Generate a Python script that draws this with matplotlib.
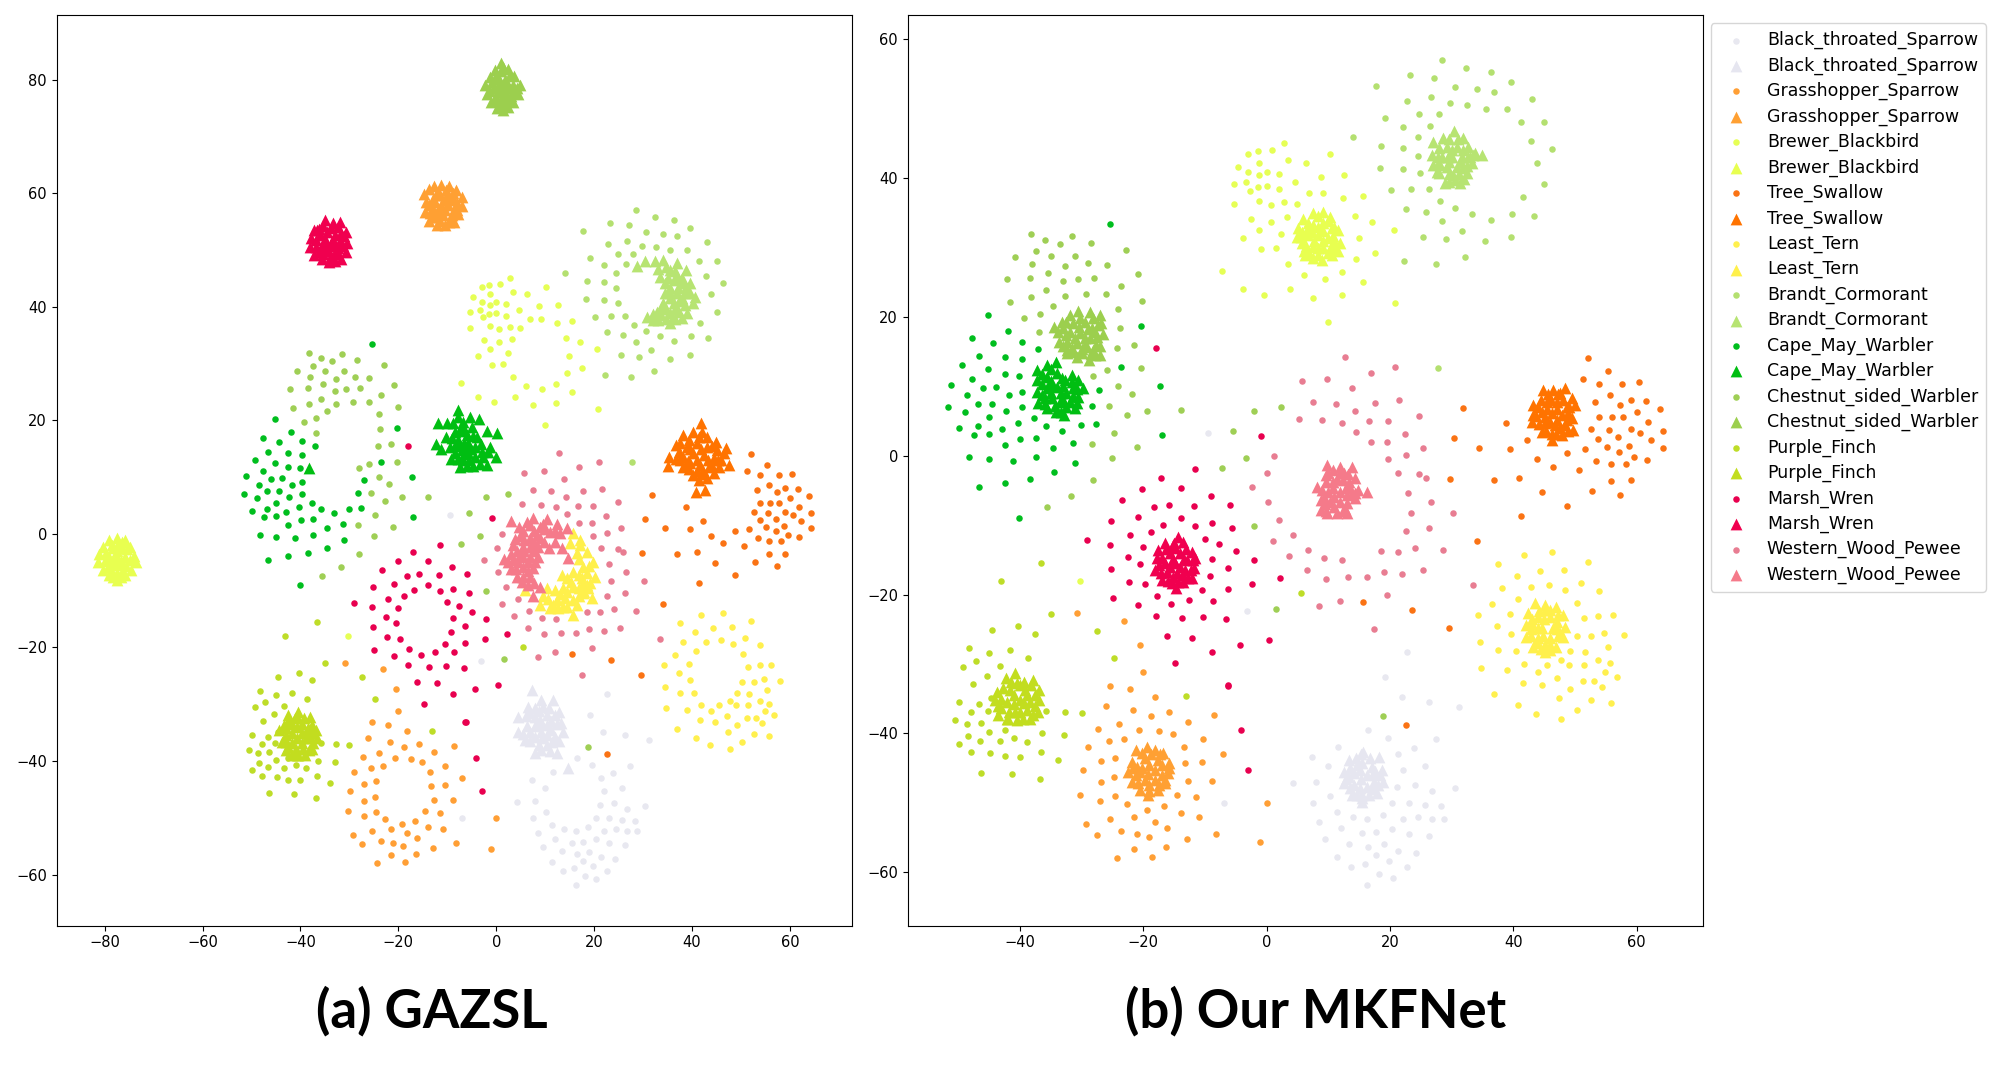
import matplotlib
matplotlib.use("Agg")
import matplotlib.pyplot as plt

class_names = ["Black_throated_Sparrow", "Grasshopper_Sparrow", "Brewer_Blackbird", "Tree_Swallow", "Least_Tern",
               "Brandt_Cormorant", "Cape_May_Warbler", "Chestnut_sided_Warbler", "Purple_Finch", "Marsh_Wren",
               "Western_Wood_Pewee"]
circle_colors = ["#E8E8F0", "#FF9F35", "#E6FF55", "#FA7314", "#FFF04E", "#B4E070", "#00BE1E", "#9FCF55", "#BEDD28", "#E8004F", "#E87D92"]
triangle_colors = ["#E6E6F0", "#FFA033", "#E8FF50", "#FF7300", "#FFF04B", "#B7E472", "#00BE12", "#9CCF4E", "#C2DD1F", "#F0004F", "#F57A8A"]

# unseen-sample features (circles), shared by both panels
black_circles = [(-3.2,-22.43),(22.69,-28.24),(19.14,-31.84),(21.87,-34.82),(26.25,-35.44),(31.13,-36.21),(16.41,-39.53),(19.63,-40.73),(27.41,-40.87),(11.53,-41.93),(23.85,-42.07),(21.37,-42.98),(7.31,-43.42),(9.87,-44.76),(25.67,-44.76),(22.03,-45.34),(4.25,-47.16),(7.97,-46.97),(24.02,-47.36),(21.12,-47.79),(30.47,-47.88),(26.75,-48.36),(10.2,-48.99),(-6.92,-50.05),(7.47,-50.05),(20.38,-50.05),(23.02,-50.05),(25.67,-50.33),(28.24,-50.48),(11.36,-51.25),(18.8,-51.68),(13.93,-51.97),(22.03,-52.26),(24.51,-51.97),(26.75,-52.26),(28.73,-52.26),(16.24,-52.4),(8.47,-52.74),(12.02,-53.65),(20.29,-53.79),(15.41,-54.37),(17.81,-54.22),(23.02,-54.51),(26.25,-54.8),(9.46,-55.14),(13.43,-55.86),(16.41,-56.34),(18.97,-56.0),(21.29,-56.91),(24.18,-57.25),(11.36,-57.83),(17.81,-57.54),(19.8,-58.45),(13.68,-59.31),(15.91,-58.88),(22.69,-59.31),(18.14,-60.23),(20.46,-60.85),(16.24,-61.86),(-9.55,3.27)]
grass_circles = [(-30.82,-22.67),(-23.21,-23.87),(-20.57,-27.23),(-20.07,-31.12),(-25.44,-33.19),(-22.22,-33.67),(-18.17,-34.72),(-26.11,-36.02),(-21.64,-36.65),(-15.85,-36.98),(-18.83,-37.56),(-8.57,-37.41),(-12.79,-38.33),(-23.96,-38.61),(-27.27,-39.33),(-20.73,-39.53),(-17.5,-39.67),(-15.11,-40.1),(-23.13,-40.87),(-25.61,-41.16),(-10.39,-40.87),(-29.0,-41.93),(-13.45,-41.93),(-7.0,-42.98),(-24.62,-43.56),(-26.93,-44.04),(-13.29,-44.33),(-10.56,-44.14),(-29.83,-45.34),(-24.78,-46.25),(-26.93,-47.02),(-12.79,-46.83),(-8.9,-46.83),(-30.33,-48.8),(-24.62,-48.99),(-14.61,-48.8),(-11.47,-49.09),(-27.1,-49.71),(-22.72,-50.19),(-19.32,-51.05),(-16.68,-50.48),(0.03,-50.05),(-13.95,-51.53),(-10.89,-51.97),(-21.56,-51.97),(-25.44,-52.26),(-18.17,-52.74),(-29.33,-53.02),(-16.18,-53.6),(-23.63,-54.08),(-27.43,-54.66),(-21.06,-54.51),(-19.0,-54.94),(-8.24,-54.51),(-12.95,-55.28),(-1.13,-55.57),(-16.35,-56.34),(-21.56,-56.63),(-24.29,-57.97),(-18.66,-57.83)]
brewer_circles = [(-2.97,43.49),(-1.47,43.84),(0.84,44.02),(2.75,45.13),(-4.67,41.67),(-1.27,42.2),(3.43,42.55),(6.36,42.2),(10.24,43.49),(-2.97,40.91),(0.03,40.91),(-1.27,40.38),(1.93,40.56),(8.75,40.2),(12.56,40.38),(-5.29,39.09),(-3.38,39.44),(-1.47,38.74),(0.03,38.91),(-2.77,38.21),(1.93,38.38),(4.66,39.44),(6.84,37.79),(9.15,37.79),(12.36,37.09),(15.56,37.44),(-5.29,36.33),(-1.27,36.68),(0.64,36.15),(2.75,36.5),(4.86,36.33),(-2.49,34.16),(0.64,33.74),(3.23,34.33),(14.26,34.51),(17.05,33.74),(-1.27,32.51),(2.34,31.92),(20.67,32.51),(-3.79,31.39),(14.94,31.39),(-0.86,29.75),(1.46,29.93),(3.43,27.58),(6.02,26.05),(9.43,25.52),(12.15,26.46),(15.56,25.0),(-7.2,26.64),(-3.79,24.05),(-0.38,23.17),(3.84,24.05),(7.45,22.76),(12.15,23.12),(20.87,22.0),(9.97,19.24),(14.47,28.28),(17.53,29.16),(-30.33,-18.06)]
tree_circles = [(52.12,14.08),(55.31,12.16),(51.26,11.1),(53.96,10.33),(57.69,10.33),(60.39,10.62),(55.63,8.7),(53.31,7.79),(57.36,7.36),(59.04,8.07),(61.58,7.93),(63.8,6.73),(60.07,6.3),(53.96,5.53),(56.01,5.53),(57.85,5.53),(61.9,4.81),(52.61,3.9),(55.47,3.75),(59.04,3.9),(60.55,3.27),(64.28,3.61),(53.8,2.41),(57.04,2.7),(62.28,2.26),(31.85,6.87),(38.77,4.66),(30.34,2.55),(42.18,2.26),(34.39,1.06),(39.47,0.92),(51.63,0.92),(55.15,1.21),(58.71,1.35),(64.28,1.06),(48.77,0.44),(57.2,0.58),(43.85,-0.43),(59.58,-0.14),(61.74,-0.62),(53.47,-0.76),(46.39,-1.68),(55.8,-1.2),(58.23,-1.2),(50.61,-2.11),(29.8,-3.31),(36.93,-3.45),(40.99,-3.16),(55.8,-3.6),(59.04,-3.45),(44.71,-5.19),(52.82,-5.01),(57.25,-5.72),(48.73,-7.18),(41.31,-8.65),(34.09,-12.35),(15.56,-21.1),(23.5,-22.2),(29.56,-24.78),(22.53,-38.76)]
tern_circles = [(41.72,-14.31),(46.26,-13.88),(37.58,-15.66),(52.06,-15.37),(40.56,-17.29),(44.28,-16.57),(48.25,-16.42),(38.16,-19.11),(42.79,-18.97),(45.85,-18.63),(50.9,-18.35),(48.33,-19.4),(53.88,-19.55),(36.51,-21.37),(40.72,-20.6),(50.4,-21.18),(34.19,-23.0),(39.4,-22.86),(51.4,-23.44),(53.79,-23.15),(56.11,-23.0),(37.33,-24.49),(39.57,-25.69),(50.24,-26.03),(52.55,-26.03),(54.62,-25.55),(57.93,-25.84),(34.52,-26.89),(37.58,-27.95),(40.39,-28.1),(55.28,-27.52),(49.25,-28.1),(51.64,-28.24),(47.67,-29.44),(53.79,-29.44),(34.69,-30.64),(38.9,-30.93),(41.8,-30.06),(45.52,-30.21),(43.95,-31.12),(49.0,-30.21),(51.4,-30.21),(55.61,-29.92),(54.79,-31.12),(56.77,-31.84),(47.09,-31.99),(41.64,-32.75),(44.61,-33.04),(51.31,-32.47),(53.05,-32.47),(49.25,-33.67),(54.37,-33.33),(36.84,-34.39),(47.34,-34.87),(52.55,-35.16),(55.78,-35.59),(40.72,-35.92),(43.62,-37.13),(50.24,-36.69),(47.67,-37.85)]
brandt_circles = [(28.45,57.02),(32.34,55.82),(23.26,54.81),(27.09,54.38),(36.39,55.24),(39.63,53.9),(17.69,53.27),(30.5,53.13),(34.07,52.84),(36.93,52.41),(26.61,51.64),(22.72,51.06),(42.99,51.35),(29.8,50.77),(32.55,50.58),(35.58,50.01),(38.93,50.01),(24.77,49.24),(27.96,49.24),(19.15,48.66),(41.31,48.04),(45.04,48.04),(22.07,47.32),(26.45,47.46),(24.55,45.92),(42.82,45.35),(18.5,44.58),(22.07,44.29),(46.34,44.15),(24.55,43.23),(43.85,42.18),(18.34,41.41),(22.07,41.26),(24.93,40.69),(45.04,39.15),(20.23,38.24),(23.42,38.43),(26.28,38.43),(28.12,36.75),(41.63,37.23),(22.55,35.55),(25.8,35.12),(30.5,35.69),(33.36,34.83),(39.8,34.83),(43.31,34.49),(28.45,33.77),(36.39,33.92),(31.69,32.43),(25.42,31.51),(29.15,31.23),(35.42,30.89),(39.63,31.51),(22.23,28.06),(27.47,27.62),(32.18,28.68),(27.8,12.59),(14.07,45.92)]
cape_circles = [(-25.39,33.44),(-45.17,20.23),(-41.98,17.97),(-20.3,18.74),(-47.71,16.92),(-44.31,16.2),(-39.6,16.34),(-37.06,15.43),(-46.68,14.42),(-42.47,14.27),(-39.6,13.94),(-49.39,13.03),(-23.55,12.74),(-45.17,12.45),(-42.47,11.82),(-40.09,11.54),(-47.71,11.1),(-51.22,10.19),(-17.28,10.05),(-46.03,9.76),(-43.82,9.9),(-27.11,9.42),(-39.6,9.13),(-48.52,8.7),(-41.82,8.7),(-46.85,7.5),(-44.47,7.5),(-28.25,7.21),(-51.6,7.02),(-39.6,7.02),(-48.9,6.3),(-42.31,6.44),(-45.0,5.53),(-37.71,5.39),(-40.25,4.76),(-27.6,4.62),(-30.14,4.48),(-46.85,4.33),(-35.71,4.33),(-49.87,4.04),(-42.95,3.9),(-33.17,3.61),(-47.49,2.99),(-45.0,3.13),(-16.95,2.99),(-39.93,2.41),(-37.39,2.55),(-31.33,1.79),(-42.47,1.5),(-34.68,1.07),(-48.2,-0.14),(-45.0,-0.47),(-41.12,-0.76),(-37.39,-0.14),(-31.11,-1.05),(-34.52,-2.39),(-38.41,-3.31),(-42.47,-3.93),(-46.68,-4.51),(-40.09,-9.02)]
chestnut_circles = [(-38.25,31.95),(-35.87,31.04),(-33.49,30.46),(-31.49,31.66),(-28.47,30.6),(-22.85,29.69),(-37.39,29.55),(-40.79,28.64),(-35.01,28.78),(-31.11,28.78),(-38.09,27.58),(-32.68,27.29),(-28.95,27.72),(-25.93,27.43),(-20.85,26.23),(-42.14,25.51),(-38.41,25.66),(-35.39,26.38),(-33.01,25.23),(-30.63,25.51),(-27.93,25.66),(-23.55,24.46),(-35.71,23.83),(-38.25,22.82),(-32.68,22.97),(-29.28,23.26),(-26.09,23.26),(-20.14,22.34),(-41.6,22.2),(-34.68,21.62),(-24.04,21.14),(-39.28,19.8),(-36.74,20.42),(-23.71,18.45),(-36.9,17.83),(-24.2,15.47),(-21.49,15.9),(-20.3,12.59),(-25.93,12.3),(-28.09,11.54),(-24.04,10.05),(-21.87,8.85),(-25.55,7.21),(-19.33,6.44),(-22.68,5.82),(-13.93,6.59),(-2.09,6.44),(2.29,7.02),(-5.49,3.61),(-24.74,3.27),(-21.01,1.21),(-28.3,1.64),(-25.06,-0.33),(-7.17,-1.82),(-3.28,-0.33),(-28.09,-3.5),(-31.66,-5.76),(-35.55,-7.39),(-2.09,-10.08),(1.59,-22.09),(18.81,-37.51)]
purple_circles = [(-36.61,-15.51),(-43.15,-18.01),(-35.04,-22.81),(-40.33,-24.49),(-44.55,-25.12),(-37.6,-25.69),(-27.43,-25.21),(-48.19,-27.66),(-41.66,-27.95),(-45.05,-28.38),(-38.76,-29.15),(-24.7,-29.15),(-47.2,-29.58),(-49.27,-30.5),(-43.31,-30.35),(-45.38,-31.7),(-47.69,-32.9),(-44.63,-34.87),(-49.93,-35.44),(-46.7,-35.78),(-47.86,-36.93),(-45.21,-36.79),(-35.78,-36.79),(-32.72,-36.98),(-30.0,-37.12),(-50.51,-38.13),(-48.6,-38.61),(-46.37,-38.47),(-42.48,-39.53),(-45.05,-39.81),(-36.45,-39.96),(-32.89,-40.25),(-48.44,-40.39),(-46.54,-41.02),(-43.31,-41.16),(-40.99,-40.73),(-38.93,-41.3),(-49.93,-41.59),(-47.86,-42.65),(-44.88,-42.79),(-42.48,-43.27),(-40.0,-43.42),(-36.61,-42.65),(-33.88,-43.85),(-46.37,-45.67),(-41.33,-45.82),(-36.78,-46.54),(-13.12,-34.68),(5.49,-19.83)]
marsh_circles = [(-17.98,15.47),(-0.95,2.84),(-11.55,-1.96),(-17.11,-3.16),(-20.14,-4.84),(-13.93,-4.7),(-9.01,-5.76),(-23.39,-6.33),(-15.76,-7.1),(-18.3,-7.39),(-11.71,-7.24),(-5.98,-7.1),(-25.22,-9.36),(-20.85,-8.88),(-13.93,-9.02),(-8.85,-9.65),(-16.79,-9.93),(-11.55,-10.08),(-5.66,-10.37),(-18.79,-11.0),(-22.2,-11.42),(-29.12,-12.19),(-10.03,-12.05),(-7.66,-12.77),(-25.39,-12.91),(-20.0,-13.1),(-4.95,-13.68),(-22.52,-14.59),(-8.85,-14.88),(-2.09,-15.02),(-20.52,-15.65),(-25.22,-16.37),(-6.3,-16.22),(-9.17,-17.28),(2.13,-17.57),(-22.36,-18.2),(-19.66,-18.48),(-2.41,-18.48),(-6.3,-19.25),(-10.52,-19.4),(-24.9,-20.45),(-17.82,-20.26),(-12.58,-20.74),(-8.68,-20.88),(-20.85,-21.51),(-15.44,-21.36),(-17.98,-23.14),(-13.76,-23.43),(-10.36,-23.29),(-6.63,-23.57),(-16.18,-26.03),(-12.13,-26.32),(0.36,-26.61),(-4.35,-27.23),(-8.9,-28.24),(-14.78,-29.92),(-6.26,-33.04),(-6.34,-33.19),(-4.19,-39.53),(-2.95,-45.34)]
pewee_circles = [(12.77,14.27),(20.88,12.73),(16.99,11.87),(5.69,10.81),(9.74,11.1),(13.9,9.76),(7.53,7.79),(11.26,7.5),(17.63,7.64),(21.53,7.98),(14.28,6.44),(24.77,5.67),(5.31,5.24),(9.04,5.1),(12.28,4.66),(16.66,4.95),(19.69,4.95),(14.45,3.46),(22.39,3.18),(16.99,1.93),(19.53,1.93),(1.26,0.0),(25.42,1.06),(19.69,-0.43),(22.55,0.15),(0.12,-2.54),(21.36,-2.54),(24.77,-2.68),(25.8,-3.16),(-2.42,-4.51),(0.29,-6.62),(1.97,-9.31),(4.34,-11.42),(1.1,-12.34),(6.67,-13.54),(3.64,-14.45),(9.37,-14.74),(12.24,-15.02),(18.5,-13.68),(21.26,-13.82),(6.5,-16.51),(9.69,-17.71),(13.26,-17.43),(16.29,-17.43),(18.99,-16.71),(19.53,-20.1),(8.56,-21.6),(11.91,-20.88),(17.48,-24.92),(22.98,-5.36),(26.59,-6.65),(23.46,-8.3),(30.27,-8.3),(26.25,-10.47),(22.57,-10.88),(28.57,-13.58),(24.07,-13.23),(25.37,-16.52),(21.96,-17.1),(33.4,-18.58)]

# seen-sample features (triangles), panel (a) GAZSL
black_a = [(7.2,-27.5),(9.1,-29.2),(11.5,-29.2),(6.5,-30.4),(12.9,-31.3),(4.4,-32.2),(13.3,-33.3),(4.4,-34.8),(13.7,-34.8),(5.8,-36.3),(10.4,-37.2),(12.5,-38.6),(7.9,-38.6),(14.7,-41.3),(7.9,-32.2),(10.4,-31.9),(7.9,-33.9),(10.4,-33.6),(7.9,-35.7),(10.4,-35.4),(12,-35.7),(6.2,-33.9),(8.7,-37.2),(11.9,-31.9),(9.5,-30.4),(7.9,-30.7),(6,-32),(6.8,-31.5),(9,-32.8),(11.2,-33),(12.3,-33.5),(5.5,-35.3),(6.9,-34.8),(9.1,-34.8),(11.2,-34.5),(6.9,-36.5),(9.4,-36),(11.4,-36.6),(9.2,-38),(11,-38.2),(12.8,-36.5),(8.8,-31.2),(10.8,-30.6),(9.2,-33.5)]
grass_a = [(-14.7,59.9),(-14.4,58.5),(-14.6,56.7),(-13.7,55.2),(-12.2,54.4),(-10.5,54.4),(-8.7,54.9),(-7.8,56.3),(-7.0,57.8),(-7.0,59.3),(-8.2,60.5),(-9.6,61.3),(-11.2,61.4),(-12.8,61.2),(-13.8,60.7),(-13,59),(-11.5,59.7),(-10,59.7),(-8.7,58.8),(-12.9,57.3),(-11.3,58),(-9.8,58),(-8.7,57),(-12.4,55.8),(-10.8,56.2),(-9.3,55.9),(-13.8,58),(-13.5,56.5),(-12.6,58.5),(-12,60.3),(-10.3,60.6),(-8.8,60),(-8,58.2),(-8,57),(-10.5,58.8),(-10.5,57),(-12,57),(-13,55.9),(-11.4,55.2),(-9.7,55),(-9,56.2),(-11.5,56.5),(-12.3,59.7),(-9.4,59)]
brewer_a = [(-77.5,-0.8),(-79.2,-1),(-75.8,-1),(-80.3,-2.3),(-74.8,-2.3),(-81.2,-3.6),(-74,-3.8),(-81.3,-5),(-73.6,-5),(-80.3,-6.3),(-74.7,-6.3),(-79.2,-7.2),(-75.9,-7.2),(-77.5,-8.1),(-78.2,-2.5),(-76.5,-2.5),(-79.2,-4),(-77.5,-4),(-75.8,-4),(-78.5,-5.5),(-76.7,-5.5),(-77.5,-6.8),(-78.6,-2),(-76.5,-1.5),(-77.5,-2.2),(-75.4,-2.7),(-79.8,-3.3),(-80,-4.8),(-78.3,-4.6),(-76.6,-4.7),(-74.9,-4.6),(-79.3,-5.8),(-75.6,-5.7),(-78.5,-6.7),(-76.5,-6.7),(-77.5,-5.2),(-77.5,-3),(-76.6,-7.5),(-78.4,-7.5)]
tree_a = [(41.78,19.6),(38.24,17.42),(40.28,18.0),(43.01,17.13),(36.74,15.66),(44.92,16.25),(46.96,15.07),(35.38,13.6),(46.42,14.19),(47.44,12.13),(35.04,11.96),(38.24,11.84),(44.37,10.67),(40.28,10.37),(43.01,9.79),(41.31,9.49),(40.83,7.44),(42.67,7.73),(38.92,15.37),(40.96,15.95),(43.01,15.37),(38.24,13.6),(40.28,14.19),(42.33,13.9),(44.37,13.31),(39.6,12.43),(41.65,12.13),(43.35,11.84),(37.22,14.48),(45.05,14.78),(37.6,13),(36.7,13.2),(39.3,16.6),(41.5,17),(41.8,15),(39.5,15),(37.5,16),(42,18),(39.2,12.8),(41,13),(43.3,13),(45.3,13),(42.3,11),(44,12),(40.9,11),(39.3,11.4),(41.8,10.5),(45.5,11.8),(44,15.5),(46,13)]
tern_a = [(15.76,0.1),(17.12,-1.08),(18.49,-3.13),(19.85,-4.9),(20.19,-7.54),(19.17,-8.71),(19.5,-11.35),(17.8,-10.47),(15.76,-14.29),(13.72,-12.82),(11,-13.11),(8.95,-12.53),(12.01,-9.88),(10.31,-9.59),(14.4,-7.83),(15.76,-6.65),(13.72,-9.59),(15.76,-9.3),(17.46,-7.83),(17.8,-5.77),(16.44,-3.42),(15.76,-11.64),(12.35,-11.64),(14.06,-11.35),(17.8,-8.71),(18.49,-6.95),(5.88,-9.88),(15.08,-1.66),(13.38,-7.24),(18.8,-9.6),(16.8,-9.5),(16.5,-12.5),(14.5,-12.8),(12.7,-13),(10.5,-11.5),(11.5,-12.5),(16.8,-11),(18.5,-9),(19,-5.7),(16.8,-7.2),(15.2,-8.5),(13,-10.6),(17,-2),(16.8,-4.5),(18,-10.3),(9.5,-11),(14.5,-10.2)]
brandt_a = [(28.7,47.19),(30.41,48.07),(32.45,48.07),(34.15,48.25),(36.88,47.66),(38.79,46.49),(33.47,45.31),(35.52,46.49),(39.6,44.14),(40.63,41.79),(40.28,40.61),(38.58,42.37),(36.2,44.72),(34.5,42.37),(36.88,42.37),(34.15,40.61),(36.2,40.61),(38.58,40.32),(32.79,39.15),(30.75,38.26),(33.13,37.68),(35.52,37.09),(37.9,37.97),(35.52,38.85),(37.22,39.15),(32.11,37.68),(33.81,40.03),(34.5,44.14),(37.9,44.14),(33,46.7),(34.7,47),(36.5,46.3),(35,45),(36.9,45.5),(38,45),(35.5,43.3),(37.2,43.3),(38.8,43.5),(39.5,42.4),(35.5,41.5),(37.3,41),(34.6,39.7),(36.6,39.7),(39,39),(33.6,38.6),(34.7,37.8),(36.6,37.8),(32,38.7),(35.5,42.4),(38,41.5),(36,38)]
cape_a = [(-7.88,21.82),(-7.88,20.53),(-11.83,19.47),(-10.1,19.6),(-5.36,20.53),(-3.45,20.18),(-1.81,18.18),(0.23,17.83),(-10.26,17.12),(-3.86,17.12),(-12.3,15.83),(-11.28,14.9),(-1.27,15.37),(-1.75,14.48),(-0.04,13.49),(-9.31,13.13),(-7.4,11.84),(-4.81,11.96),(-1.81,12.14),(-3.31,12.3),(-6.72,13),(-4.33,13.6),(-9.44,15.36),(-7.4,18.3),(-6.04,17.42),(-7.74,16.54),(-5.7,16),(-4.33,15.36),(-7.06,14.78),(-8.42,14.19),(-5.7,14.19),(-9.1,16.83),(-6.72,19.77),(-5.0,18.89),(-38.2,11.6),(-8.8,19.6),(-7,19),(-8.5,18),(-6.7,16),(-8.5,15.5),(-6.4,18.2),(-4.8,17.2),(-5.2,15),(-6.3,15.3),(-7.4,15.6),(-6.5,14),(-7.8,13.2),(-5.5,13),(-3,14.5),(-3.2,15.8),(-6,12),(-2.8,13.5)]
chestnut_a = [(1.0,83),(-0.3,81.8),(2.4,81.9),(-1.3,80.5),(3.6,80.6),(-2.3,79),(4.8,79),(-2.0,77.5),(4.5,77.5),(-1,76),(3.5,76),(0.2,75.1),(1.3,74.6),(2.4,75.2),(0.5,80.2),(1.8,80),(-0.5,78.5),(1,78.5),(2.5,78.5),(3.5,79),(0,77),(1.5,77),(3,77.2),(1.3,76),(1,81.5),(1.3,82.2),(0,80.7),(2.8,80.8),(-0.8,79.6),(0.8,79.4),(2.2,79.4),(3.8,78),(-1.2,78),(0.3,77.8),(1.8,77.8),(3.4,78),(-0.4,76.3),(1,76.4),(2.2,76.4),(0.5,75.4),(2,75.5),(4.2,78.5)]
purple_a = [(-40.5,-31.3),(-42.6,-31.9),(-38,-32.2),(-43.4,-33.6),(-36.9,-34.5),(-44.3,-34.5),(-43.8,-36.6),(-36.7,-36),(-43,-38),(-37.6,-37.8),(-40.5,-38.9),(-41.8,-38.9),(-39,-38.9),(-41.8,-33.4),(-39.7,-33.4),(-38.4,-34.2),(-41.8,-35.1),(-39.7,-35.1),(-38,-36),(-41.8,-36.9),(-39.7,-36.9),(-43,-35.4),(-40.7,-32.2),(-41.2,-32.4),(-39.3,-32.5),(-37.6,-33.6),(-43,-34.2),(-42.5,-33),(-40.7,-34),(-38.8,-34.9),(-37.6,-35),(-42.9,-36.5),(-40.7,-36),(-38.9,-36),(-37.5,-36.8),(-42.5,-37.5),(-41,-37.8),(-39.5,-37.8),(-38.2,-38),(-40.7,-39),(-43,-36.7)]
marsh_a = [(-36.6,53.5),(-35.0,55.3),(-33.4,54.8),(-31.9,54.9),(-30.8,53.2),(-30.4,51.3),(-30.8,49.6),(-31.7,48.4),(-33.0,48.0),(-34.2,47.9),(-35.6,48.4),(-37.2,49.2),(-38.1,50.5),(-37.9,52.2),(-37.3,53.5),(-36,52.6),(-34.5,53.2),(-33,52.6),(-32,51.6),(-35.5,51),(-33.8,51),(-32.3,50.3),(-36.2,49.7),(-34.5,49.8),(-33,49.5),(-34,48.3),(-35.5,54.2),(-33.8,53.9),(-32.3,54),(-31.2,52.5),(-31.3,50.8),(-32.3,49.3),(-33.7,49),(-35.3,49.3),(-36.8,50.5),(-36.9,51.7),(-35,52),(-33.3,51.8),(-34.5,50.3),(-33,50.7),(-35.8,50.2),(-36.3,53.7),(-31.8,53)]
pewee_a = [(3.02,2.33),(6.23,2.15),(7.59,2.74),(10.31,2.56),(12.36,1.74),(14.4,0.98),(8.95,1.27),(11,0.39),(13.04,0.1),(4.86,-0.37),(6.9,-0.78),(3.5,-1.96),(10.86,-2.55),(13.38,-2.55),(6.9,-2.25),(4.86,-3.72),(1.6,-4.48),(14.74,-4.31),(6.9,-4.02),(3.5,-4.6),(2.95,-6.24),(5.54,-5.77),(7.59,-6.07),(4.32,-7.54),(6.9,-7.54),(6.57,-9.0),(8.95,-9.42),(7.59,-10.94),(8.27,-0.2),(5.54,-2.25),(8.95,-0.78),(8.6,-2.25),(8.6,-4),(5.54,-7.54),(4.7,1.3),(5.5,0.6),(6.8,1.5),(7.8,0.6),(10,0.8),(9.6,1.7),(12,0.5),(3.9,-0.9),(5.7,-1),(7.7,-1.6),(9.7,-1.5),(4.2,-3),(5.7,-3),(7.6,-3),(3,-3.5),(2.4,-5),(4.4,-5),(6.4,-5),(8,-5),(4,-6.2),(6.4,-6.6),(5.3,-8.5),(7.6,-8.6),(11.9,-1.5),(5.5,-4)]

# seen-sample features (triangles), panel (b) Our MKFNet
black_b = [(15.66,-42.65),(13.35,-43.85),(18.15,-43.37),(12.52,-45.53),(18.73,-45.29),(12.52,-47.21),(18.89,-46.97),(13.76,-48.89),(17.9,-48.65),(15.41,-49.85),(15.41,-44.33),(17.07,-44.81),(14.17,-45.77),(16.24,-46.01),(14.17,-47.45),(16.24,-47.69),(15.41,-48.89),(17.48,-46.97),(14.5,-43.5),(16.8,-43.6),(15.3,-43),(13.5,-45),(15.2,-45.2),(17.5,-45.4),(13.3,-46.3),(15.3,-46.6),(17.3,-45.9),(18,-47.5),(13.5,-47.9),(15.2,-47.8),(17,-48),(14.6,-48.8),(16.6,-48.9),(15.4,-49.3),(14.6,-44.5),(12.9,-46.5),(18.3,-46)]
grass_b = [(-19.32,-41.93),(-21.14,-42.41),(-18.08,-42.41),(-16.84,-42.89),(-21.8,-44.09),(-15.85,-44.33),(-22.47,-45.53),(-16.02,-45.77),(-21.8,-46.97),(-16.43,-47.21),(-20.57,-48.17),(-19.16,-48.89),(-17.67,-48.17),(-19.74,-43.61),(-17.67,-43.85),(-20.15,-45.05),(-18.08,-45.29),(-19.74,-46.73),(-18.08,-46.73),(-20.2,-42.8),(-18.8,-43),(-17.3,-43),(-21,-44.8),(-19,-44.5),(-16.9,-44.5),(-21.2,-46),(-19.2,-45.9),(-17,-46),(-15.9,-45),(-20.8,-47.2),(-19.1,-47.5),(-17.4,-47.5),(-19,-48.3),(-20.6,-45.5),(-21.6,-45),(-16.5,-46.7)]
brewer_b = [(7.59,34.93),(9.1,35.17),(10.29,34.45),(5.97,34.06),(5.16,32.77),(11.64,32.53),(4.89,31.57),(11.91,30.6),(5.7,30.6),(6.24,28.92),(7.59,28.44),(8.94,28.2),(10.56,28.92),(11.64,29.55),(7.59,33.25),(9.21,33.49),(10.56,32.77),(6.78,31.8),(8.4,31.8),(10.02,31.33),(7.59,30.12),(9.21,29.88),(10.56,30.36),(6.5,32.5),(8.3,34.5),(6.7,33.6),(8.4,33),(10,33.8),(11,33),(5.8,32.3),(7.3,32.3),(9.2,32.4),(10.8,31.7),(5.6,31.5),(7.6,31),(9.2,30.9),(11,30.9),(6.4,30.2),(8.4,30),(6.8,29.2),(8.4,28.9),(10,29.2),(10.8,30),(6,29.5)]
tree_b = [(44.88,9.47),(46.39,9.47),(48.39,9.71),(47.58,9),(43.26,7.31),(49.47,8.27),(50,7.31),(43.26,5.87),(42.99,4.9),(49.47,5.39),(49.63,3.7),(44.61,3.46),(46.23,2.26),(47.85,2.98),(45.42,7.79),(47.04,7.79),(48.66,7.07),(44.61,6.34),(46.23,6.1),(47.85,5.87),(45.15,4.66),(46.77,4.42),(48.39,4.42),(45.6,8.9),(47.2,8.9),(44.5,8),(46.1,8),(48,8),(49,7),(44,7),(45.5,6.8),(47,6.8),(48.8,6.2),(43.7,5.8),(45.2,5.6),(47,5.2),(48.7,5.2),(44.2,4.6),(46,4.8),(47.5,4),(45.3,3.6),(46.9,3.2),(48.8,3.6),(46.3,3.2)]
tern_b = [(43.54,-21.27),(45.19,-21.51),(46.85,-21.76),(42.3,-22.72),(48.09,-22.96),(42.13,-24.4),(48.33,-24.64),(42.13,-26.17),(48.09,-26.08),(43.12,-27.52),(46.85,-27.52),(45.19,-28.24),(43.95,-23.2),(46.02,-23.2),(43.95,-24.88),(46.43,-24.88),(43.95,-26.32),(46.02,-26.32),(45.19,-27.28),(45.19,-22.24),(44.2,-22.3),(46,-22.2),(47.2,-23),(43,-23.5),(44.9,-23.5),(47,-24),(42.9,-25),(44.7,-24.8),(47.1,-25),(42.9,-26),(44.8,-26),(47.2,-26),(43.8,-27),(46,-27.2),(44.5,-27.8),(46,-28),(47.5,-25.5),(43,-24.3)]
brandt_b = [(30.45,46.84),(28.66,45.73),(27.04,45.25),(31.9,45.73),(32.72,44.53),(26.77,43.33),(33.8,43.57),(34.99,43.33),(27.04,41.89),(33.26,42.13),(27.58,40.93),(32.45,40.69),(28.93,39.25),(31.36,39.25),(29.2,44.53),(30.82,44.53),(28.39,43.09),(30.01,43.09),(31.63,43.09),(29.2,41.65),(30.82,41.65),(31.9,41.41),(30.28,40.45),(28.12,41.89),(29.6,45.7),(31,45.6),(28,44.4),(30,44.1),(31.8,44),(27.8,43),(29.4,43),(32.6,43),(33,43),(27.8,42),(29.6,42.3),(31.5,42.3),(32.5,41.8),(28,40.7),(29.6,40.6),(31.2,40.6),(29.5,39.5),(30.6,39.7),(32,39.9),(33.4,43.3)]
cape_b = [(-34.2,13.55),(-35.66,13.07),(-37.28,12.35),(-31.6,11.63),(-30.52,10.91),(-29.71,9.71),(-37.28,10.91),(-37.28,9.23),(-37,7.65),(-30.52,8.51),(-31.06,6.83),(-35.55,6.83),(-34.14,6.25),(-32.79,5.87),(-35.66,11.39),(-34.03,11.87),(-32.68,10.91),(-31.33,9.71),(-35.66,9.71),(-34.03,9.95),(-32.57,9),(-34.84,8.27),(-33.49,7.79),(-31.87,7.79),(-35.93,8.27),(-34.9,12.5),(-36.4,11.8),(-35,10.8),(-33.2,11.2),(-31.6,10.6),(-36.5,10.3),(-34.8,10),(-33,10),(-30.7,9.6),(-36.5,8.8),(-33.3,9),(-31.4,8.6),(-36,7.4),(-34.3,7.2),(-32.5,7),(-33.4,6.3),(-30.8,7.6),(-33,8),(-35,9)]
chestnut_b = [(-30.63,20.9),(-28.63,20.76),(-27.0,20.28),(-31.87,20.28),(-33.22,19.32),(-34.47,18.5),(-27.28,18.84),(-26.47,17.54),(-33.6,16.43),(-27.0,15.81),(-27.0,14.51),(-32.41,14.75),(-30.79,14.27),(-28.74,13.79),(-31.33,19.08),(-29.44,19.32),(-28.36,18.36),(-31.87,17.88),(-30.25,17.64),(-28.63,16.92),(-27.55,17.16),(-32.41,16.43),(-30.79,16.2),(-29.17,15.71),(-28.09,15.23),(-31.6,15.47),(-30,14.75),(-32.95,18.36),(-30.2,19.9),(-28.2,19.8),(-32.5,19.3),(-33.8,17.8),(-30.4,18.6),(-29,18.3),(-27.8,17.8),(-32.6,17.4),(-31,17),(-29.4,17),(-33,15.8),(-29.5,16),(-27.6,16),(-31.6,14.9),(-30,15.4),(-28.4,14.7),(-27.8,14.5),(-32.4,15.2),(-26.8,19.2)]
purple_b = [(-40.75,-31.36),(-42.32,-32.08),(-37.93,-32.32),(-39.34,-32.56),(-43.72,-34.0),(-36.94,-33.76),(-43.97,-35.2),(-36.94,-35.2),(-43.56,-37.37),(-37.11,-36.88),(-40.42,-38.09),(-38.35,-37.85),(-42.07,-37.85),(-41.66,-33.76),(-39.18,-33.76),(-42.07,-35.44),(-40,-35.2),(-38.35,-35.44),(-40.83,-36.88),(-38.93,-36.65),(-40.42,-32.8),(-41.5,-32.6),(-40,-33),(-38.2,-33),(-42.8,-33.5),(-41,-34.4),(-38.8,-34.4),(-37.5,-34.4),(-43,-35),(-41,-35.8),(-39.3,-35.6),(-37.6,-36),(-43,-36.3),(-41.7,-36.9),(-40,-36.9),(-37.9,-37.4),(-42,-37.9),(-39.5,-37.9),(-43.5,-36)]
marsh_b = [(-14.3,-11.76),(-16.47,-12.62),(-13.49,-12.38),(-17.55,-13.58),(-12.14,-13.83),(-11.6,-14.78),(-17.82,-14.78),(-18.09,-16.47),(-11.77,-16.23),(-12.14,-17.67),(-17.01,-17.91),(-15.39,-18.39),(-13.49,-18.15),(-14.74,-19.1),(-15.66,-14.06),(-14.03,-14.06),(-12.95,-15.03),(-16.47,-15.5),(-14.84,-15.5),(-13.22,-16.47),(-16.2,-16.71),(-14.57,-16.95),(-15.11,-12.86),(-15,-12.6),(-16.3,-13.5),(-14.8,-13.3),(-13,-13.4),(-17,-14.7),(-15.2,-14.8),(-13.4,-14.8),(-12,-15),(-17.4,-15.8),(-15.6,-16),(-14,-16),(-12.3,-16.5),(-17.2,-16.9),(-15.2,-17.4),(-13.5,-17.2),(-16,-18),(-14.4,-18.2),(-12.7,-17.6)]
pewee_b = [(9.75,-1.34),(13.8,-1.58),(11.91,-1.67),(10.83,-2.06),(14.34,-3.26),(9.64,-2.78),(8.13,-4.46),(16.24,-5.18),(14.89,-4.94),(14.34,-6.14),(8.78,-6.38),(8.78,-7.82),(12.99,-8.3),(11.37,-8.3),(9.75,-8.3),(10.83,-3.74),(12.45,-3.5),(10,-5.18),(11.91,-5.18),(13.53,-4.7),(10.29,-6.62),(11.91,-6.62),(12.99,-6.86),(11.91,-2.54),(10,-2.5),(12.6,-2.5),(13.2,-2.6),(9.6,-3.8),(11.4,-3.4),(13.4,-3.8),(9,-5),(10.8,-4.6),(12.8,-4.6),(14.3,-5.4),(9.3,-5.9),(11,-6),(13,-5.6),(9.5,-7),(11,-7.4),(12.7,-7.6),(9.6,-7.9),(12.3,-8),(13.9,-5.5)]

circles = [black_circles, grass_circles, brewer_circles, tree_circles, tern_circles, brandt_circles, cape_circles, chestnut_circles, purple_circles, marsh_circles, pewee_circles]
triangles_a = [black_a, grass_a, brewer_a, tree_a, tern_a, brandt_a, cape_a, chestnut_a, purple_a, marsh_a, pewee_a]
triangles_b = [black_b, grass_b, brewer_b, tree_b, tern_b, brandt_b, cape_b, chestnut_b, purple_b, marsh_b, pewee_b]

W, H = 2000, 1079
fig = plt.figure(figsize=(W / 100, H / 100), dpi=100, facecolor="white")

def make_axes(left, right, top, bottom):
    return fig.add_axes([left / W, 1 - bottom / H, (right - left) / W, (bottom - top) / H])

ax_a = make_axes(56.7, 851.7, 15, 925.7)
ax_b = make_axes(907.7, 1702.7, 15, 925.7)

CIRCLE_S = 22
TRI_S = 72

def draw(ax, tri_sets):
    handles = []
    labels = []
    for name, cc, tc, pts, tris in zip(class_names, circle_colors, triangle_colors, circles, tri_sets):
        h1 = ax.scatter([p[0] for p in pts], [p[1] for p in pts], s=CIRCLE_S, c=cc, marker="o", linewidths=0)
        h2 = ax.scatter([p[0] for p in tris], [p[1] for p in tris], s=TRI_S, c=tc, marker="^", linewidths=0)
        handles += [h1, h2]
        labels += [name, name]
    return handles, labels

draw(ax_a, triangles_a)
handles, labels = draw(ax_b, triangles_b)

ax_a.set_xlim(-89.8, 72.6)
ax_a.set_ylim(-69.0, 91.4)
ax_a.set_xticks([-80, -60, -40, -20, 0, 20, 40, 60])
ax_a.set_yticks([-60, -40, -20, 0, 20, 40, 60, 80])

ax_b.set_xlim(-58.2, 70.7)
ax_b.set_ylim(-67.7, 63.5)
ax_b.set_xticks([-40, -20, 0, 20, 40, 60])
ax_b.set_yticks([-60, -40, -20, 0, 20, 40, 60])

for ax in (ax_a, ax_b):
    ax.tick_params(labelsize=10.5)

fig.legend(handles, labels, loc="upper left", bbox_to_anchor=(1711 / W, 1 - 23.3 / H),
           bbox_transform=fig.transFigure, borderaxespad=0, fontsize=12.5, labelspacing=0.414,
           handletextpad=0.77, borderpad=0.45, scatterpoints=1, framealpha=0.8)

fig.text(432 / W, 1 - 1028 / H, "(a) GAZSL", family="Lato", fontweight="bold", fontsize=38, ha="center", va="baseline", color="black")
fig.text(1316 / W, 1 - 1028 / H, "(b) Our MKFNet", family="Lato", fontweight="bold", fontsize=38, ha="center", va="baseline", color="black")

fig.savefig("out.png", dpi=100, facecolor="white")
